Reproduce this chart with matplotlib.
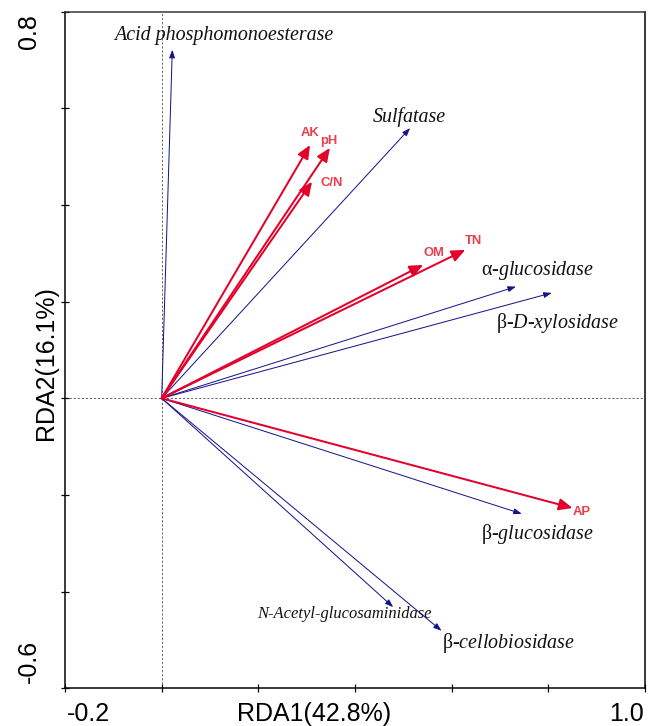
import matplotlib
matplotlib.use("Agg")
import matplotlib.pyplot as plt

# RDA biplot: enzyme activities (blue) vs soil properties (red)

# enzyme arrows (response variables)
enz_names = ["Acid phosphomonoesterase", "Sulfatase", "α-glucosidase", "β-D-xylosidase",
             "β-glucosidase", "N-Acetyl-glucosaminidase", "β-cellobiosidase"]
enz_x = [0.022, 0.514, 0.733, 0.807, 0.745, 0.479, 0.579]
enz_y = [0.721, 0.559, 0.231, 0.218, -0.239, -0.432, -0.481]

# soil property arrows (explanatory variables)
env_names = ["AK", "pH", "C/N", "OM", "TN", "AP"]
env_x = [0.307, 0.348, 0.311, 0.541, 0.628, 0.850]
env_y = [0.524, 0.518, 0.448, 0.276, 0.307, -0.227]

xlab = "RDA1(42.8%)"
ylab = "RDA2(16.1%)"

# label placement (data coords, text centres)
enz_lab_pos = [(0.128, 0.750), (0.512, 0.581), (0.778, 0.265), (0.819, 0.156),
               (0.778, -0.281), (0.377, -0.446), (0.718, -0.506)]
env_lab_pos = [(0.307, 0.548), (0.346, 0.533), (0.352, 0.445),
               (0.564, 0.300), (0.646, 0.325), (0.869, -0.236)]

RED = "#e4002b"
RED_TXT = "#ee3d4a"
BLUE = "#14148a"

plt.rcParams['mathtext.fontset'] = 'custom'
plt.rcParams['mathtext.rm'] = 'Liberation Serif'
plt.rcParams['mathtext.it'] = 'Liberation Serif:italic'

fig = plt.figure(figsize=(656 / 72, 726 / 72), dpi=72)
ax = fig.add_axes([65 / 656, (726 - 688.3) / 726, 580 / 656, 676.7 / 726])
ax.set_xlim(-0.2, 1.0)
ax.set_ylim(-0.6, 0.8)

# dotted zero lines
ax.axhline(0, color="0.35", lw=0.9, ls=(0, (2.5, 2)), zorder=1)
ax.axvline(0, color="0.35", lw=0.9, ls=(0, (2.5, 2)), zorder=1)


def fmt(name):
    # greek prefix upright, rest italic
    if name[0] in "αβ":
        parts = name[2:].split("-")
        return name[0] + "-" + "-".join(r"$\mathit{" + p + "}$" for p in parts)
    return name


for i in range(len(enz_names)):
    ax.annotate("", xy=(enz_x[i], enz_y[i]), xytext=(0, 0),
                arrowprops=dict(arrowstyle="-|>,head_length=0.55,head_width=0.2",
                                color=BLUE, lw=1.0, shrinkA=0, shrinkB=0,
                                mutation_scale=12), zorder=3)
    nm = enz_names[i]
    size = 16.5 if nm.startswith("N-") else 20
    style = "normal" if nm[0] in "αβ" else "italic"
    ax.text(enz_lab_pos[i][0], enz_lab_pos[i][1], fmt(nm), ha="center", va="center",
            fontsize=size, family="Liberation Serif", style=style, color="#111111")

for i in range(len(env_names)):
    ax.annotate("", xy=(env_x[i], env_y[i]), xytext=(0, 0),
                arrowprops=dict(arrowstyle="-|>,head_length=0.8,head_width=0.35",
                                color=RED, lw=2.0, shrinkA=0, shrinkB=0,
                                mutation_scale=14), zorder=4)
    ax.text(env_lab_pos[i][0], env_lab_pos[i][1], env_names[i], ha="center", va="center",
            fontsize=13, family="Liberation Sans", weight="bold", color=RED_TXT)

for s in ax.spines.values():
    s.set_linewidth(1.5)
ax.spines['top'].set_color("#333333")

ax.set_xticks([-0.2, 0, 0.2, 0.4, 0.6, 0.8, 1.0])
ax.set_yticks([-0.6, -0.4, -0.2, 0, 0.2, 0.4, 0.6, 0.8])
ax.set_xticklabels([])
ax.set_yticklabels([])
ax.tick_params(direction="inout", length=8, width=1.2)

tf = dict(family="Liberation Sans", fontsize=25, color="black")
xt = ax.get_xaxis_transform()
yt = ax.get_yaxis_transform()
ax.text(-0.197, -0.048, "-0.2", transform=xt, ha="left", va="baseline", **tf)
ax.text(0.997, -0.048, "1.0", transform=xt, ha="right", va="baseline", **tf)
ax.text(-0.050, 0.795, "0.8", transform=yt, ha="right", va="baseline",
        rotation=90, rotation_mode="anchor", **tf)
ax.text(-0.050, -0.59, "-0.6", transform=yt, ha="left", va="baseline",
        rotation=90, rotation_mode="anchor", **tf)
ax.text(0.43, -0.048, xlab, transform=ax.transAxes, ha="center", va="baseline", **tf)
ax.text(-0.021, 0.48, ylab, transform=ax.transAxes, ha="center", va="baseline",
        rotation=90, rotation_mode="anchor", **tf)

fig.savefig("out.png", dpi=72)
